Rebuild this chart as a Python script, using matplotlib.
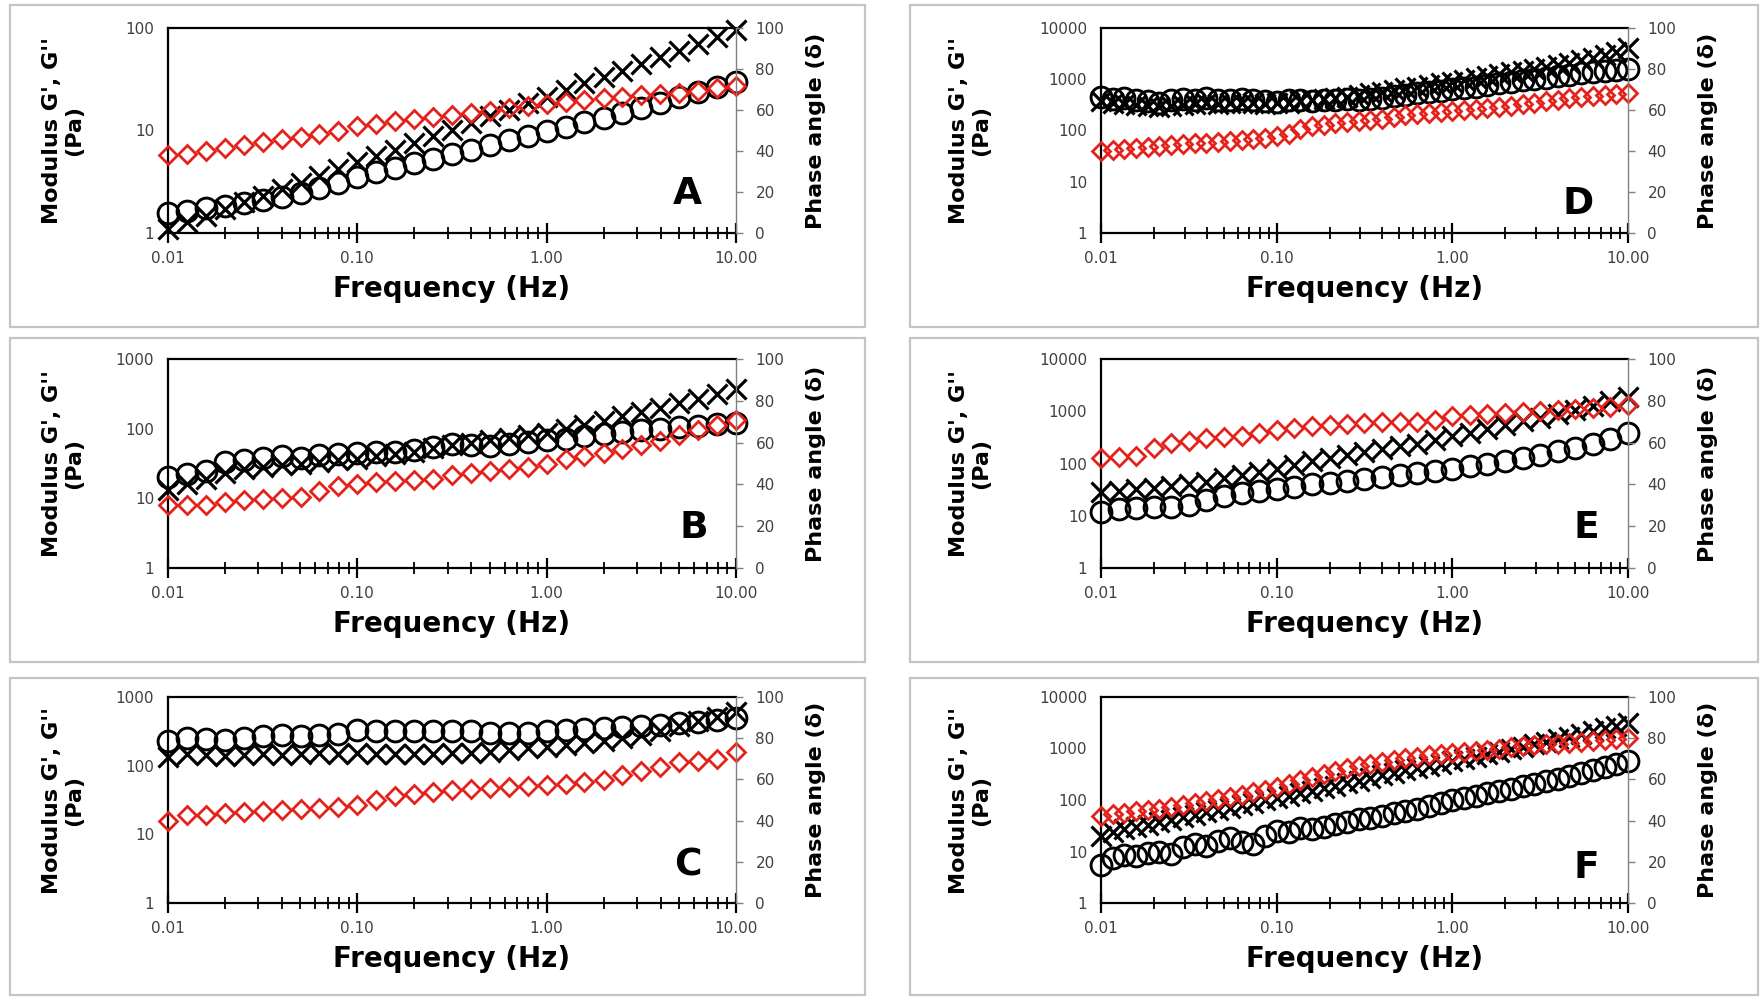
import matplotlib
matplotlib.use("Agg")
import matplotlib.pyplot as plt
from matplotlib.patches import Rectangle
from matplotlib.ticker import FixedLocator, NullFormatter

W, H = 1765, 1000

# frequency grids (Hz)
freq_31 = [0.01, 0.0126, 0.0158, 0.02, 0.0251, 0.0316, 0.0398, 0.0501, 0.0631, 0.0794,
           0.1, 0.126, 0.158, 0.2, 0.251, 0.316, 0.398, 0.501, 0.631, 0.794,
           1.0, 1.26, 1.58, 2.0, 2.51, 3.16, 3.98, 5.01, 6.31, 7.94, 10.0]
freq_46 = [0.01, 0.0117, 0.0136, 0.0158, 0.0185, 0.0215, 0.0251, 0.0293, 0.0341, 0.0398,
           0.0464, 0.0541, 0.0631, 0.0736, 0.0858,
           0.1, 0.117, 0.136, 0.158, 0.185, 0.215, 0.251, 0.293, 0.341, 0.398,
           0.464, 0.541, 0.631, 0.736, 0.858,
           1.0, 1.17, 1.36, 1.58, 1.85, 2.15, 2.51, 2.93, 3.41, 3.98,
           4.64, 5.41, 6.31, 7.36, 8.58, 10.0]

# panel A
A_gp = [1.10, 1.28, 1.48, 1.72, 2.0, 2.3, 2.7, 3.1, 3.6, 4.2, 4.9, 5.6, 6.5, 7.6, 8.8, 10.2,
        11.8, 13.7, 15.9, 18.4, 21, 25, 29, 33, 38, 45, 52, 60, 70, 81, 95]
A_gpp = [1.55, 1.65, 1.75, 1.85, 1.95, 2.1, 2.25, 2.45, 2.75, 3.1, 3.5, 3.9, 4.3, 4.8, 5.3, 5.9,
         6.5, 7.2, 8.0, 8.9, 9.8, 10.8, 12, 13.3, 14.8, 16.5, 18.5, 21, 23.5, 26.5, 30]
A_phase = [38, 38.5, 40, 41.5, 43, 44.5, 46, 47, 48.5, 50, 52, 53, 54.5, 55.5, 56.5, 57.5,
           58.5, 59.5, 61, 62, 63, 64, 65, 66, 66.5, 67.5, 68, 68.5, 69.5, 70.5, 71.5]

# panel B
B_gp = [13, 16, 19, 23, 26, 28, 30, 31, 33, 35, 37, 40, 43, 47, 52, 58, 63, 68, 74, 80, 88,
        98, 112, 130, 150, 175, 200, 230, 265, 310, 370]
B_gpp = [20, 22, 25, 33, 36, 38, 40, 38, 42, 44, 45, 46, 47, 50, 55, 60, 58, 56, 60, 64, 68,
         72, 78, 84, 90, 96, 100, 105, 110, 115, 122]
B_phase = [30, 30, 30, 31.5, 32.5, 33, 33.5, 34, 37, 39, 40, 41, 41.5, 42, 42.5, 44.5, 45.5,
           46.5, 47.5, 48.5, 50, 52, 53.5, 55, 57, 59, 61, 63.5, 66, 68.5, 71]

# panel C
C_gp = [135, 150, 145, 140, 145, 150, 145, 150, 155, 150, 155, 150, 150, 150, 150, 155, 155,
        160, 170, 180, 190, 200, 215, 230, 250, 280, 320, 380, 450, 520, 600]
C_gpp = [230, 250, 245, 240, 250, 270, 275, 270, 280, 290, 330, 320, 320, 320, 315, 320, 315,
         300, 300, 300, 320, 330, 340, 350, 360, 380, 390, 420, 430, 460, 500]
C_phase = [40, 42.5, 42.5, 43.5, 44, 44.5, 45, 45.5, 46, 46.5, 47.5, 50, 52, 53, 54, 55, 55.5,
           56, 56.5, 57, 57.5, 58, 58.5, 59.5, 62, 64, 66, 68.5, 69, 70, 73.5]

# panel D
D_gp = [380, 350, 330, 320, 300, 290, 300, 320, 330, 340, 330, 340, 350, 340, 330, 340, 350,
        370, 390, 410, 430, 460, 490, 530, 570, 610, 660, 710, 770, 830, 900, 980, 1060, 1150,
        1250, 1360, 1480, 1610, 1760, 1920, 2100, 2350, 2650, 3000, 3450, 4000]
D_gpp = [450, 420, 440, 400, 380, 350, 390, 420, 390, 430, 400, 390, 420, 400, 370, 360, 390,
         400, 380, 400, 390, 410, 400, 420, 440, 470, 500, 530, 560, 600, 640, 680, 720, 770,
         830, 890, 950, 1010, 1080, 1150, 1220, 1300, 1380, 1450, 1530, 1600]
D_phase = [40, 40.5, 41, 41.3, 41.8, 42.2, 42.7, 43.2, 43.7, 44.1, 44.6, 45, 45.5, 46, 46.5,
           47.2, 48.5, 50.5, 52, 52.8, 53.5, 54, 54.5, 55, 55.5, 56.5, 57.5, 58, 58.5, 59, 59.5,
           60, 60.5, 61, 61.5, 62, 62.8, 63.5, 64.2, 65, 65.7, 66.3, 66.8, 67.3, 67.8, 68.3]

# panel E
E_gp = [28, 30, 32, 34, 37, 40, 45, 52, 60, 70, 80, 95, 110, 125, 145, 165, 190, 215, 240, 280,
        330, 390, 460, 540, 640, 750, 900, 1050, 1250, 1550, 1900]
E_gpp = [12, 13.5, 14, 14.5, 15, 16, 20, 24, 27, 30, 33, 36, 40, 43, 46, 50, 55, 60, 66, 72, 80,
         88, 98, 110, 125, 145, 170, 200, 240, 300, 380]
E_phase = [52.8, 53, 53.5, 57.5, 60, 61, 62, 62.5, 63, 64.5, 66, 67, 68, 68.5, 69, 69.5, 70, 70,
           70, 71, 72.5, 73, 73.5, 74, 74.5, 75, 75.5, 76, 76.5, 77, 77.8]

# panel F
F_gp = [20, 24, 27, 30, 33, 37, 41, 46, 52, 58, 64, 71, 79, 88, 99, 110, 122, 136, 150, 168,
        188, 210, 235, 265, 300, 340, 380, 420, 465, 510, 560, 620, 690, 770, 860, 960, 1080,
        1200, 1350, 1500, 1680, 1900, 2150, 2450, 2750, 3100]
F_gpp = [5.5, 7.5, 8.5, 8, 9.5, 10, 9, 12, 14, 13, 16, 18, 15, 14, 20, 25, 24, 28, 27, 30, 34,
         38, 42, 45, 50, 56, 62, 66, 75, 88, 100, 110, 120, 135, 150, 165, 185, 205, 230, 260,
         290, 330, 380, 430, 490, 580]
F_phase = [42.2, 43, 43.8, 44.5, 45.2, 45.8, 46.6, 47.5, 48.5, 49.5, 50.5, 51.5, 52.6, 53.8, 55,
           56.5, 58, 59.5, 61, 62.5, 64, 65.3, 66.5, 67.5, 68.5, 69.5, 70.3, 71, 71.8, 72.5, 73,
           73.5, 74, 74.5, 75, 75.5, 76, 76.5, 77, 77.4, 77.8, 78.2, 78.6, 79, 79.5, 80]

ytops = {"A": 100, "B": 1000, "C": 1000, "D": 10000, "E": 10000, "F": 10000}
# panel letter position in axes fraction
letter_pos = {"A": (0.915, 0.19), "B": (0.925, 0.19), "C": (0.915, 0.18),
              "D": (0.905, 0.14), "E": (0.92, 0.19), "F": (0.92, 0.17)}

# pixel layout: axes x0, x1, frame x0, x1, ylabel offset
cols = {0: (168, 736, 10, 865, 105), 1: (1101, 1628, 910, 1758, 131)}
rows = {0: (28, 233, 5, 327), 1: (359, 568, 338, 662), 2: (697, 903, 678, 995)}

red = "#e3221c"
tick_col = "#404040"

fig = plt.figure(figsize=(W / 100, H / 100), dpi=100)


def fx(px):
    return px / W


def fy(py):
    return 1 - py / H


def panel(col, row, freq, gp, gpp, phase, letter):
    x0, x1, fx0, fx1, yoff = cols[col]
    y0, y1, fy0, fy1 = rows[row]
    fig.patches.append(Rectangle((fx(fx0), fy(fy1)), fx(fx1 - fx0), (fy1 - fy0) / H,
                                 transform=fig.transFigure, fill=False,
                                 edgecolor="#c4c4c4", lw=1.6))
    ax = fig.add_axes([fx(x0), fy(y1), fx(x1 - x0), (y1 - y0) / H])
    ax.set_xscale("log")
    ax.set_yscale("log")
    ax.set_xlim(0.01, 10)
    ytop = ytops[letter]
    ax.set_ylim(1, ytop)

    ax.plot(freq, gp, ls="none", marker="x", ms=15, mew=2.3, color="black", clip_on=False)
    ax.plot(freq, gpp, ls="none", marker="o", ms=15, mew=2.1, mfc="none", mec="black",
            clip_on=False)

    yt = [1, 10, 100, 1000, 10000]
    yt = [v for v in yt if v <= ytop]
    ax.yaxis.set_major_locator(FixedLocator(yt))
    ax.set_yticklabels([str(v) for v in yt])
    ax.yaxis.set_minor_locator(FixedLocator([]))
    ax.tick_params(axis="y", which="both", length=0, pad=10, labelsize=11, labelcolor=tick_col)

    ax.xaxis.set_major_locator(FixedLocator([0.01, 0.1, 1, 10]))
    ax.set_xticklabels(["0.01", "0.10", "1.00", "10.00"])
    minors = [m * d for d in (0.01, 0.1, 1) for m in range(2, 10)]
    ax.xaxis.set_minor_locator(FixedLocator(minors))
    ax.xaxis.set_minor_formatter(NullFormatter())
    ax.tick_params(axis="x", which="major", direction="inout", length=14, width=1.6, pad=6,
                   labelsize=11, labelcolor=tick_col)
    ax.tick_params(axis="x", which="minor", direction="inout", length=9, width=1.3)

    for s in ("left", "bottom", "top"):
        ax.spines[s].set_linewidth(1.6)
    ax.spines["right"].set_visible(False)

    ax2 = ax.twinx()
    ax2.set_ylim(0, 100)
    ax2.plot(freq, phase, ls="none", marker="D", ms=9, mew=2.0, mfc="none", mec=red,
             clip_on=False)
    ax2.set_yticks([0, 20, 40, 60, 80, 100])
    ax2.tick_params(axis="y", direction="out", length=5, width=1, color="#808080", pad=9,
                    labelsize=11, labelcolor=tick_col)
    for s in ("left", "bottom", "top"):
        ax2.spines[s].set_visible(False)
    ax2.spines["right"].set_color("#808080")
    ax2.spines["right"].set_linewidth(1.0)

    lx, ly = letter_pos[letter]
    ax.text(lx, ly, letter, transform=ax.transAxes, fontsize=27, fontweight="bold",
            ha="center", va="center")

    xc = (x0 + x1) / 2
    yc = (y0 + y1) / 2
    fig.text(fx(xc), fy(y1 + 56), "Frequency (Hz)", fontsize=20, fontweight="bold",
             ha="center", va="center")
    fig.text(fx(x0 - yoff), fy(yc), "Modulus G', G''\n(Pa)", fontsize=16, fontweight="bold",
             rotation=90, ha="center", va="center", multialignment="center", linespacing=1.1)
    fig.text(fx(x1 + 80), fy(yc), "Phase angle (\u03b4)", fontsize=16, fontweight="bold",
             rotation=90, ha="center", va="center")


panel(0, 0, freq_31, A_gp, A_gpp, A_phase, "A")
panel(0, 1, freq_31, B_gp, B_gpp, B_phase, "B")
panel(0, 2, freq_31, C_gp, C_gpp, C_phase, "C")
panel(1, 0, freq_46, D_gp, D_gpp, D_phase, "D")
panel(1, 1, freq_31, E_gp, E_gpp, E_phase, "E")
panel(1, 2, freq_46, F_gp, F_gpp, F_phase, "F")

plt.savefig("out.png", dpi=100)
